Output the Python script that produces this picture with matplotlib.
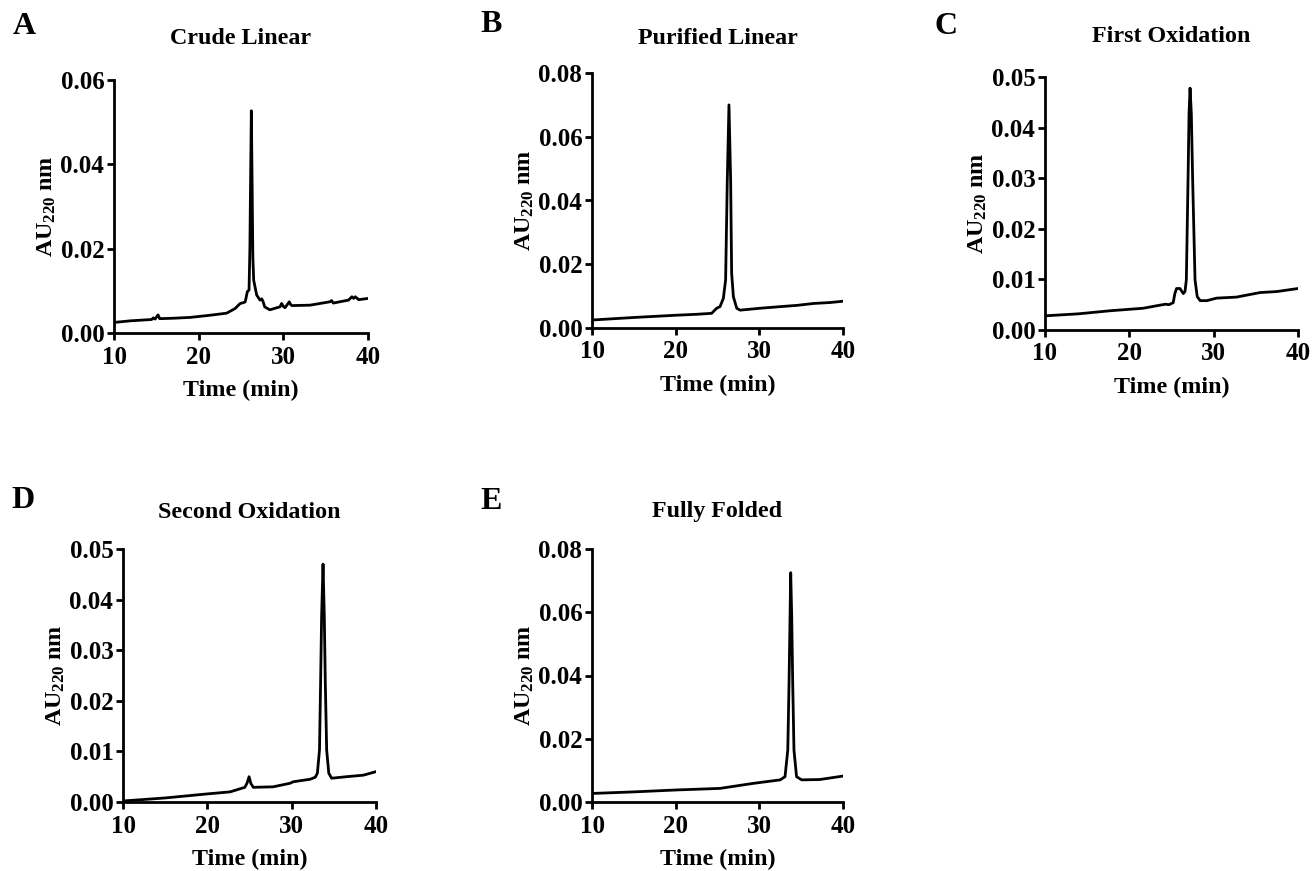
import matplotlib
matplotlib.use("Agg")
import matplotlib.pyplot as plt
from matplotlib.ticker import FormatStrFormatter

plt.rcParams['font.family'] = ['Liberation Serif', 'DejaVu Serif']
plt.rcParams['font.weight'] = 'bold'
plt.rcParams['mathtext.fontset'] = 'custom'
plt.rcParams['mathtext.rm'] = 'Liberation Serif:bold'
plt.rcParams['mathtext.it'] = 'Liberation Serif:bold'
plt.rcParams['mathtext.bf'] = 'Liberation Serif:bold'

# ---- data (retention time in min, absorbance AU at 220 nm) ----
letters = ["A", "B", "C", "D", "E"]
titles = ["Crude Linear", "Purified Linear", "First Oxidation",
          "Second Oxidation", "Fully Folded"]

crude_t = [10, 12, 14.45, 14.65, 14.85, 15.2, 15.4, 17, 19, 21.3, 23.3, 24.3,
           24.9, 25.3, 25.5, 25.75, 25.95, 26.05, 26.12, 26.22, 26.32, 26.4,
           26.5, 26.85, 27.25, 27.45, 27.6, 27.8, 28.4, 29.6, 29.8, 30.0, 30.2,
           30.7, 30.85, 31.0, 33.15, 35.5, 35.7, 35.9, 37.7, 38.1, 38.3, 38.5,
           38.9, 40]
crude_au = [0.0025, 0.0029, 0.0032, 0.0036, 0.0033, 0.0043, 0.0034, 0.0035,
            0.0037, 0.0042, 0.0047, 0.0058, 0.0070, 0.0072, 0.0074, 0.0098,
            0.0102, 0.020, 0.034, 0.0527, 0.034, 0.018, 0.0125, 0.0090, 0.0078,
            0.0081, 0.0075, 0.0062, 0.0055, 0.0062, 0.0070, 0.0063, 0.0060,
            0.0074, 0.0068, 0.0065, 0.0066, 0.0074, 0.0077, 0.0071, 0.0078,
            0.0086, 0.0082, 0.0086, 0.0079, 0.0082]

purified_t = [10, 15, 20, 22.5, 24.3, 24.9, 25.3, 25.7, 25.97, 26.17, 26.37,
              26.57, 26.69, 26.9, 27.3, 27.7, 30.1, 32.5, 34.5, 36.5, 38.5, 40]
purified_au = [0.0025, 0.0033, 0.0040, 0.0043, 0.0046, 0.0062, 0.0067, 0.0093,
               0.0151, 0.0464, 0.070, 0.0464, 0.0172, 0.0098, 0.0062, 0.0056,
               0.0062, 0.0067, 0.0071, 0.0077, 0.0080, 0.0084]

first_t = [10, 14, 17.7, 21.65, 23.6, 24.3, 24.7, 25.2, 25.4, 25.6, 26.0, 26.4,
           26.6, 26.76, 26.96, 27.08, 27.2, 27.35, 27.51, 27.79, 28.05, 28.4,
           29.2, 30.35, 32.7, 35.5, 37.5, 40]
first_au = [0.0028, 0.0032, 0.0038, 0.0043, 0.0049, 0.0051, 0.0050, 0.0054,
            0.0072, 0.0082, 0.0082, 0.0072, 0.0076, 0.0099, 0.0296, 0.0428,
            0.0478, 0.0428, 0.0296, 0.0099, 0.0066, 0.0058, 0.0058, 0.0063,
            0.0065, 0.0074, 0.0076, 0.0082]

second_t = [10, 15, 20, 22.7, 24.45, 24.7, 24.95, 25.15, 25.45, 27.8, 29.8,
            30.2, 32.2, 32.8, 33.05, 33.3, 33.43, 33.55, 33.72, 33.87, 33.99,
            34.15, 34.4, 34.74, 36.5, 38.5, 40]
second_au = [0.0002, 0.0008, 0.0016, 0.0020, 0.0029, 0.0037, 0.0050, 0.0037,
             0.0029, 0.0030, 0.0037, 0.0040, 0.0045, 0.0049, 0.0057, 0.0103,
             0.0235, 0.0366, 0.047, 0.0366, 0.0235, 0.0103, 0.0057, 0.0047,
             0.0050, 0.0053, 0.0060]

folded_t = [10, 15, 20, 25.3, 29.3, 32.5, 33.07, 33.4, 33.55, 33.67, 33.75,
            33.87, 33.99, 34.14, 34.45, 35.06, 37.2, 40]
folded_au = [0.0027, 0.0032, 0.0038, 0.0043, 0.0059, 0.0070, 0.0080, 0.0164,
             0.0375, 0.0586, 0.0725, 0.0586, 0.0375, 0.0164, 0.0080, 0.0070,
             0.0071, 0.0082]

series_t = [crude_t, purified_t, first_t, second_t, folded_t]
series_au = [crude_au, purified_au, first_au, second_au, folded_au]
y_max = [0.06, 0.08, 0.05, 0.05, 0.08]
y_step = [0.02, 0.02, 0.01, 0.01, 0.02]
x_ticks = [10, 20, 30, 40]

# ---- layout (pixel boxes: left, top, right, bottom) ----
W, H = 1313, 871
boxes = [(114, 80, 368, 333), (592, 73, 843, 328), (1045, 77, 1298, 330),
         (123, 549, 376, 802), (592, 549, 843, 802)]
title_y = [38, 38, 37, 512, 512]
letter_pos = [(24, 27), (491, 25), (946, 26), (23, 500), (491, 501)]

fig = plt.figure(figsize=(W / 100, H / 100), dpi=100)

for i in range(5):
    l, t, r, b = boxes[i]
    ax = fig.add_axes([l / W, 1 - b / H, (r - l) / W, (b - t) / H])
    ax.plot(series_t[i], series_au[i], color='black', lw=2.0,
            solid_joinstyle='round')
    ax.set_xlim(10, 40)
    ax.set_ylim(0, y_max[i])
    ax.set_xticks(x_ticks)
    n = int(round(y_max[i] / y_step[i]))
    ax.set_yticks([k * y_step[i] for k in range(n + 1)])
    ax.yaxis.set_major_formatter(FormatStrFormatter('%.2f'))
    for s in ['top', 'right']:
        ax.spines[s].set_visible(False)
    for s in ['left', 'bottom']:
        ax.spines[s].set_linewidth(2.0)
    ax.tick_params(axis='both', direction='out', length=5, width=2.0,
                   labelsize=18, pad=2)
    ax.tick_params(axis='x', pad=4)
    for lab in ax.get_xticklabels() + ax.get_yticklabels():
        lab.set_fontweight('bold')
    ax.set_xlabel('Time (min)', fontsize=17.3, fontweight='bold', labelpad=8)
    ax.set_ylabel(r'$\mathrm{AU}_{\mathrm{220}}$ nm', fontsize=17.3,
                  fontweight='bold', labelpad=2)
    fig.text((l + r) / 2 / W, 1 - title_y[i] / H, titles[i], ha='center',
             va='center', fontsize=17.3, fontweight='bold')
    lx, ly = letter_pos[i]
    fig.text(lx / W, 1 - ly / H, letters[i], ha='center', va='center',
             fontsize=23, fontweight='bold')

fig.savefig('out.png', dpi=100, facecolor='white')
